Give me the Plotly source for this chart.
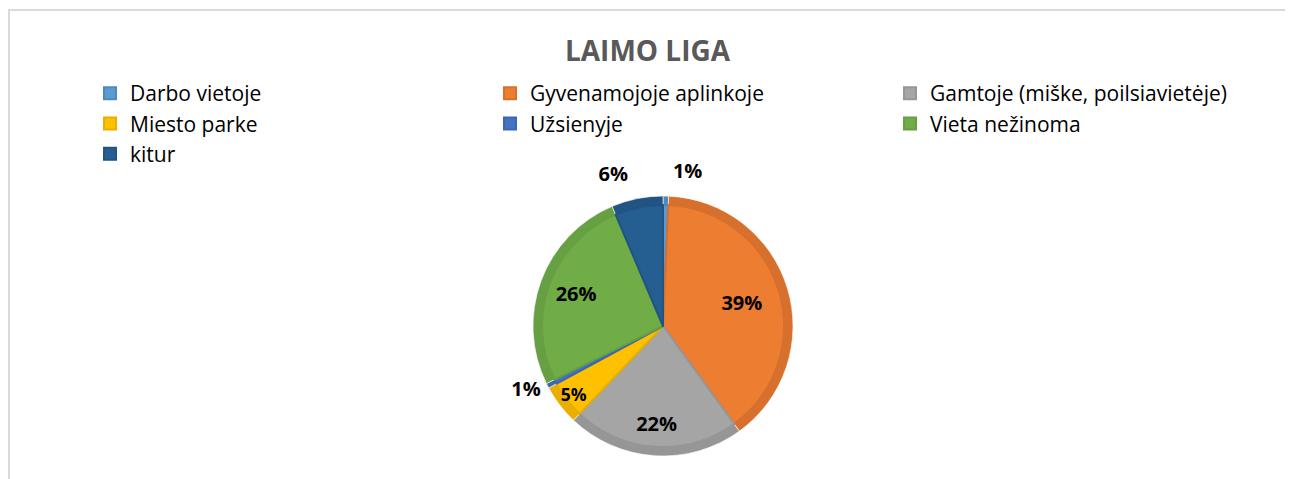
import plotly.graph_objects as go

# ---- data ----
labels = ["Darbo vietoje", "Gyvenamojoje aplinkoje", "Gamtoje (miške, poilsiavietėje)",
          "Miesto parke", "Užsienyje", "Vieta nežinoma", "kitur"]
values = [0.7, 39.3, 22.1, 5.0, 0.6, 25.9, 6.4]
fill_colors = ["#5B9BD5", "#ED7D31", "#A5A5A5", "#FFC000", "#4472C4", "#70AD47", "#255E91"]
band_colors = ["#5088BC", "#D6702C", "#969696", "#E8AE00", "#3C66B0", "#66A043", "#215383"]
# which label group each slice's percentage belongs to
label_group = ["outer", "big", "big", "small", "small", "big", "outer"]
label_position = ["outside", "inside", "inside", "inside", "outside", "inside", "outside"]
title_text = "LAIMO LIGA"

# ---- layout geometry (pixels, in figure coordinates; page body adds an 8px margin) ----
W, H = 1293, 479
cx, cy, R = 655, 318, 130
band = 9
text_radius = {"big": 160, "small": 130, "outer": 142}

total = sum(values)
pct_text = [f"{round(v / total * 100)}%" for v in values]


def domain(r):
    return dict(x=[(cx - r) / W, (cx + r) / W], y=[1 - (cy + r) / H, 1 - (cy - r) / H])


fig = go.Figure()
# outer (darker band) pie
fig.add_trace(go.Pie(
    labels=labels, values=values, sort=False, direction="clockwise", rotation=0,
    domain=domain(R), marker=dict(colors=band_colors, line=dict(color="rgba(255,255,255,0.6)", width=1)),
    textinfo="none", hoverinfo="skip", showlegend=False,
))
# inner (fill) pie
fig.add_trace(go.Pie(
    labels=labels, values=values, sort=False, direction="clockwise", rotation=0,
    domain=domain(R - band), marker=dict(colors=fill_colors, line=dict(color=band_colors, width=2)),
    textinfo="none", hoverinfo="label+percent", showlegend=True,
))
# text-only pies (percent labels)
for grp, rad in text_radius.items():
    txt = [t if g == grp else "" for t, g in zip(pct_text, label_group)]
    fig.add_trace(go.Pie(
        labels=labels, values=values, sort=False, direction="clockwise", rotation=0,
        domain=domain(rad), marker=dict(colors=["rgba(0,0,0,0)"] * len(labels), line=dict(width=0)),
        text=txt, textinfo="text", textposition=label_position,
        insidetextorientation="horizontal",
        textfont=dict(family="Open Sans", size=20, color="#000000", weight="bold"),
        hoverinfo="skip", showlegend=False,
    ))

fig.update_layout(
    width=W, height=H,
    margin=dict(l=0, r=0, t=0, b=0),
    paper_bgcolor="white", plot_bgcolor="white",
    title=dict(text=title_text, x=639.5 / W, xanchor="center", xref="container",
               y=1 - 43 / H, yanchor="middle", yref="container",
               font=dict(family="Open Sans", size=28, color="#595959", weight="bold")),
    legend=dict(orientation="h", x=82 / W, xanchor="left", y=1 - 65 / H, yanchor="top",
                entrywidth=355, entrywidthmode="pixels", traceorder="normal",
                font=dict(family="Open Sans", size=21, color="#000000"),
                bgcolor="rgba(0,0,0,0)"),
    shapes=[dict(type="rect", xref="paper", yref="paper",
                 x0=1 / W, x1=1.02, y0=-0.05, y1=1 - 2 / H,
                 line=dict(color="#D9D9D9", width=2), fillcolor="rgba(0,0,0,0)", layer="below")],
)

fig.write_html("out.html")
